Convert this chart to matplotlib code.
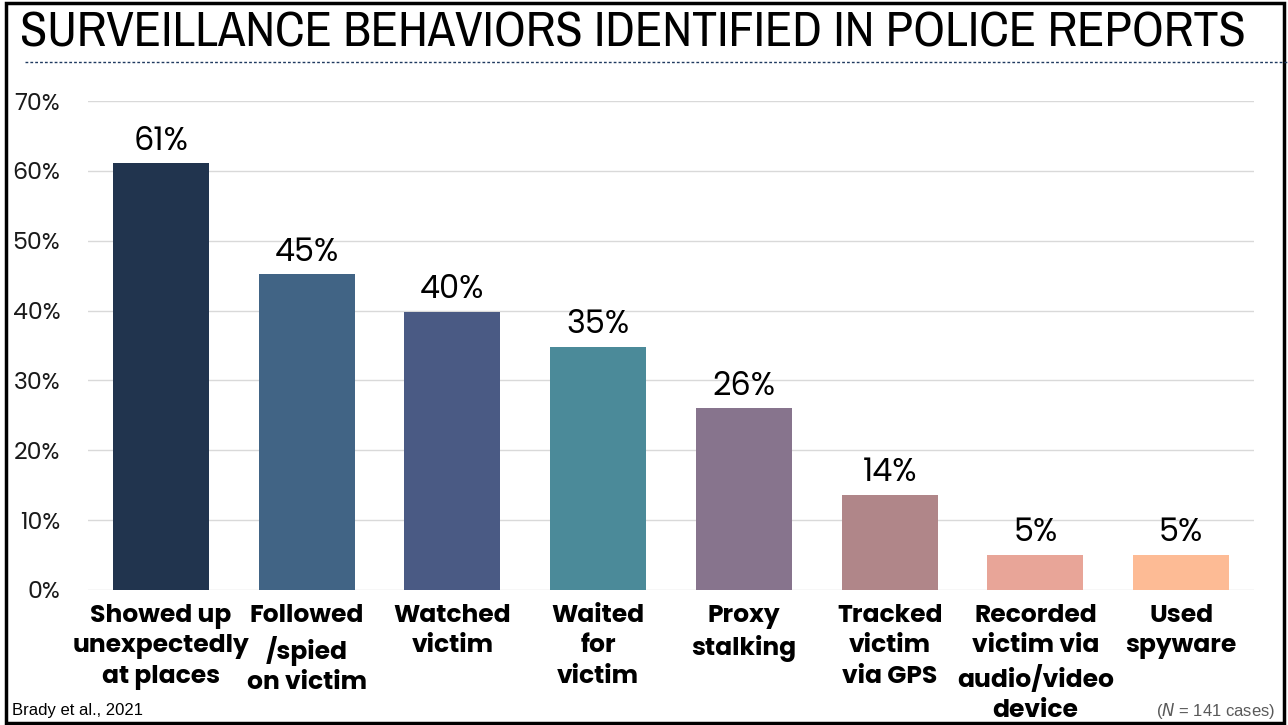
import matplotlib
matplotlib.use("Agg")
import matplotlib.pyplot as plt
from matplotlib.patches import Rectangle
from matplotlib.lines import Line2D
from matplotlib.ticker import FuncFormatter

categories = ["Showed up\nunexpectedly\nat places", "Followed\n/spied\non victim", "Watched\nvictim",
              "Waited\nfor\nvictim", "Proxy\nstalking", "Tracked\nvictim\nvia GPS",
              "Recorded\nvictim via\naudio/video\ndevice", "Used\nspyware"]
values = [61.1, 45.2, 39.8, 34.8, 26.0, 13.6, 5.0, 5.0]
labels = ["61%", "45%", "40%", "35%", "26%", "14%", "5%", "5%"]
colors = ["#21344E", "#416485", "#4A5A84", "#4B8A99", "#87748D", "#B08689", "#E8A598", "#FDBB95"]
yticks = [0, 10, 20, 30, 40, 50, 60, 70]

GEO = ["Poppins", "Lato", "DejaVu Sans"]
NARROW = ["Archivo Narrow", "Roboto Condensed", "DejaVu Sans"]
ARIAL = ["Liberation Sans", "DejaVu Sans"]

fig = plt.figure(figsize=(12.88, 7.25), dpi=100)
ax = fig.add_axes([88/1288, 1 - 590/725, (1254-88)/1288, (590-101)/725])

x = list(range(len(categories)))
ax.bar(x, values, width=0.66, color=colors, zorder=3)
for xi, v, lab in zip(x, values, labels):
    ax.text(xi, v + 0.8, lab, ha="center", va="bottom", fontsize=23, family=GEO, color="black")

ax.set_xlim(-0.5, 7.5)
ax.set_ylim(0, 70)
ax.set_yticks(yticks)
ax.yaxis.set_major_formatter(FuncFormatter(lambda v, p: f"{int(v)}%"))
ax.grid(axis="y", color="#D9D9D9", linewidth=1, zorder=0)
for s in ax.spines.values():
    s.set_visible(False)
ax.tick_params(axis="y", length=0, pad=20, labelsize=17)
for t in ax.get_yticklabels():
    t.set_family(GEO)
    t.set_fontweight("normal")
    t.set_color("#1a1a1a")
ax.set_xticks(x)
ax.set_xticklabels(categories, fontsize=18, fontweight="bold", family=GEO, linespacing=1.3, va="top")
ax.tick_params(axis="x", length=0, pad=10)

fig.text(20/1288, 1 - 33/725, "SURVEILLANCE BEHAVIORS IDENTIFIED IN POLICE REPORTS", ha="left", va="center",
         fontsize=36, family=NARROW, color="black")
fig.add_artist(Line2D([25/1288, 1.0], [1 - 62/725, 1 - 62/725], transform=fig.transFigure,
                      color="#1F3A60", linewidth=1, linestyle=(0, (2, 1.5))))
fig.text(12/1288, 1 - 711/725, "Brady et al., 2021", ha="left", va="center", fontsize=12,
         family=ARIAL, color="black")
fig.text(1275/1288, 1 - 711/725, "($\\it{N}$ = 141 cases)", ha="right", va="center", fontsize=12,
         family=ARIAL, color="#595959")
fig.add_artist(Rectangle((6/1288, 2/725), 1278/1288, 720/725, transform=fig.transFigure,
                         fill=False, edgecolor="black", linewidth=2.5))

fig.savefig("out.png", dpi=100)
